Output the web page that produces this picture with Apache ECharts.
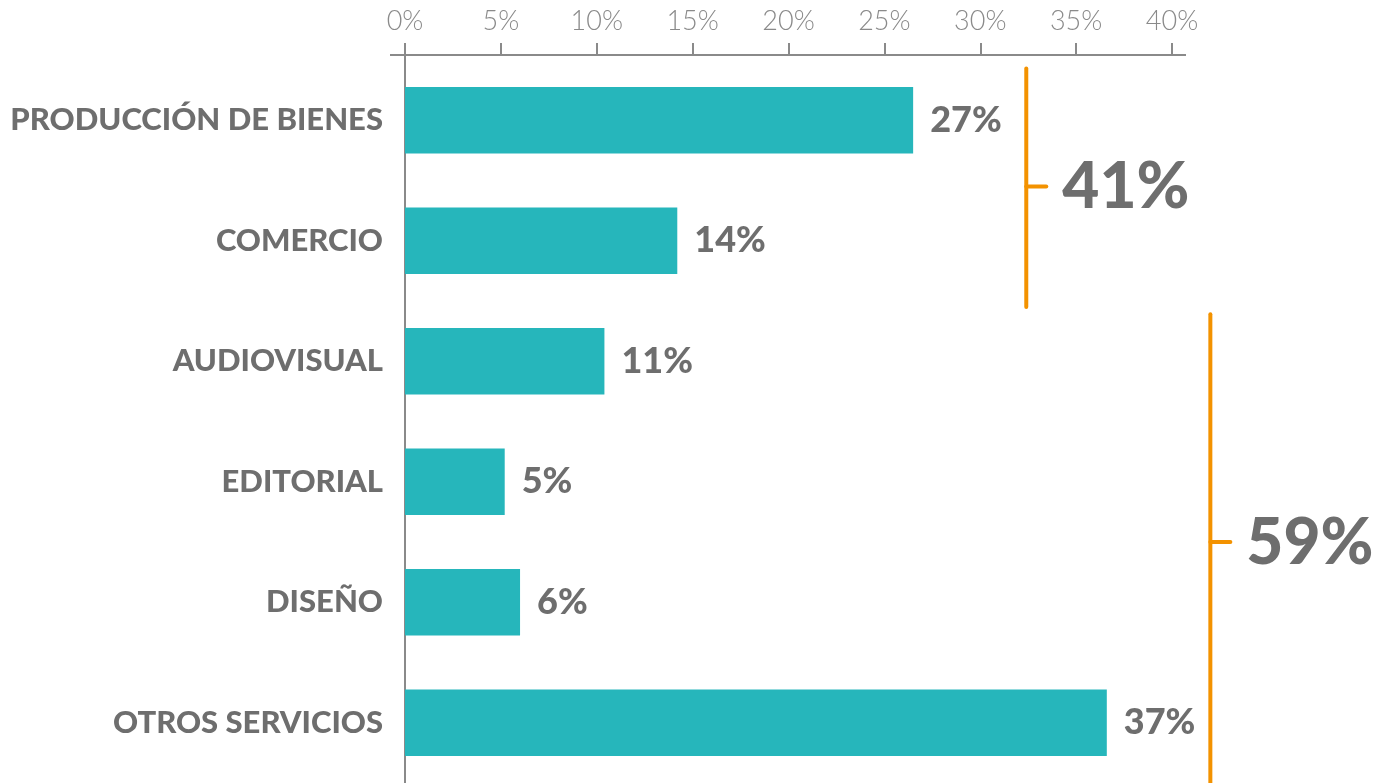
<!DOCTYPE html>
<html><head><meta charset="utf-8">
<script src="https://cdn.jsdelivr.net/npm/echarts@6/dist/echarts.min.js"></script>
<style>html,body{margin:0;padding:0;background:#fff}#c{width:1386px;height:783px}</style>
</head><body><div id="c"></div>
<script>
const categories = ["PRODUCCIÓN DE BIENES","COMERCIO","AUDIOVISUAL","EDITORIAL","DISEÑO","OTROS SERVICIOS"];
const values = [26.5, 14.2, 10.4, 5.2, 6.0, 36.6];
const valueLabels = ["27%","14%","11%","5%","6%","37%"];
const groupLabels = ["41%","59%"];
const groupX = [32.4, 42.0];

const chart = echarts.init(document.getElementById('c'));
const gray = '#6e6e6e';
const axisGray = '#8a8a8a';
const option = {
  animation:false,
  grid:{left:405,right:214,top:60,bottom:-3,containLabel:false},
  xAxis:{type:'value',position:'top',offset:5,min:0,max:40,interval:5,
    axisLine:{show:true,lineStyle:{color:axisGray,width:2}},
    axisTick:{show:true,length:12,inside:false,lineStyle:{color:axisGray,width:2}},
    axisLabel:{formatter:'{value}%',color:axisGray,fontFamily:'Lato',fontWeight:300,fontSize:27,margin:20},
    splitLine:{show:false}},
  yAxis:{type:'category',inverse:true,data:categories,
    axisLine:{show:true,lineStyle:{color:axisGray,width:2}},
    axisTick:{show:false},
    axisLabel:{color:gray,fontFamily:'Lato',fontWeight:900,fontSize:31,margin:22}},
  series:[{type:'bar',data:values,barCategoryGap:'45%',
    itemStyle:{color:'#26b6bb'},
    label:{show:true,position:'right',distance:17,
      formatter:p=>valueLabels[p.dataIndex],
      color:gray,fontFamily:'Lato',fontWeight:900,fontSize:36}}]
};
chart.setOption(option);

function drawBrackets(){
  const g=[];
  const x0 = chart.convertToPixel({xAxisIndex:0},0);
  const x40 = chart.convertToPixel({xAxisIndex:0},40);
  const yAx = 55;
  g.push({type:'line',shape:{x1:x0-15,y1:yAx,x2:x40+14,y2:yAx},style:{stroke:axisGray,lineWidth:2}});
  g.push({type:'line',shape:{x1:x0,y1:yAx,x2:x0,y2:62},style:{stroke:axisGray,lineWidth:2}});
  const c0 = chart.convertToPixel({yAxisIndex:0},0);
  const c1 = chart.convertToPixel({yAxisIndex:0},1);
  const band = c1-c0;
  const tops=[c0-band*0.43, c0+band*1.61];
  const bots=[c0+band*1.55, c0+band*5.7];
  const mids=[c0+band*0.55, c0+band*3.5];
  [0,1].forEach(i=>{
    const x = chart.convertToPixel({xAxisIndex:0},groupX[i]);
    g.push({type:'line',shape:{x1:x,y1:tops[i],x2:x,y2:bots[i]},style:{stroke:'#f39200',lineWidth:4,lineCap:'round'}});
    g.push({type:'line',shape:{x1:x,y1:mids[i],x2:x+20,y2:mids[i]},style:{stroke:'#f39200',lineWidth:4,lineCap:'round'}});
    g.push({type:'text',x:x+36,y:mids[i]+1,style:{text:groupLabels[i],fill:gray,font:'900 64px Lato',textVerticalAlign:'middle',textAlign:'left'}});
  });
  chart.setOption({graphic:{elements:g}});
}
drawBrackets();
</script></body></html>
